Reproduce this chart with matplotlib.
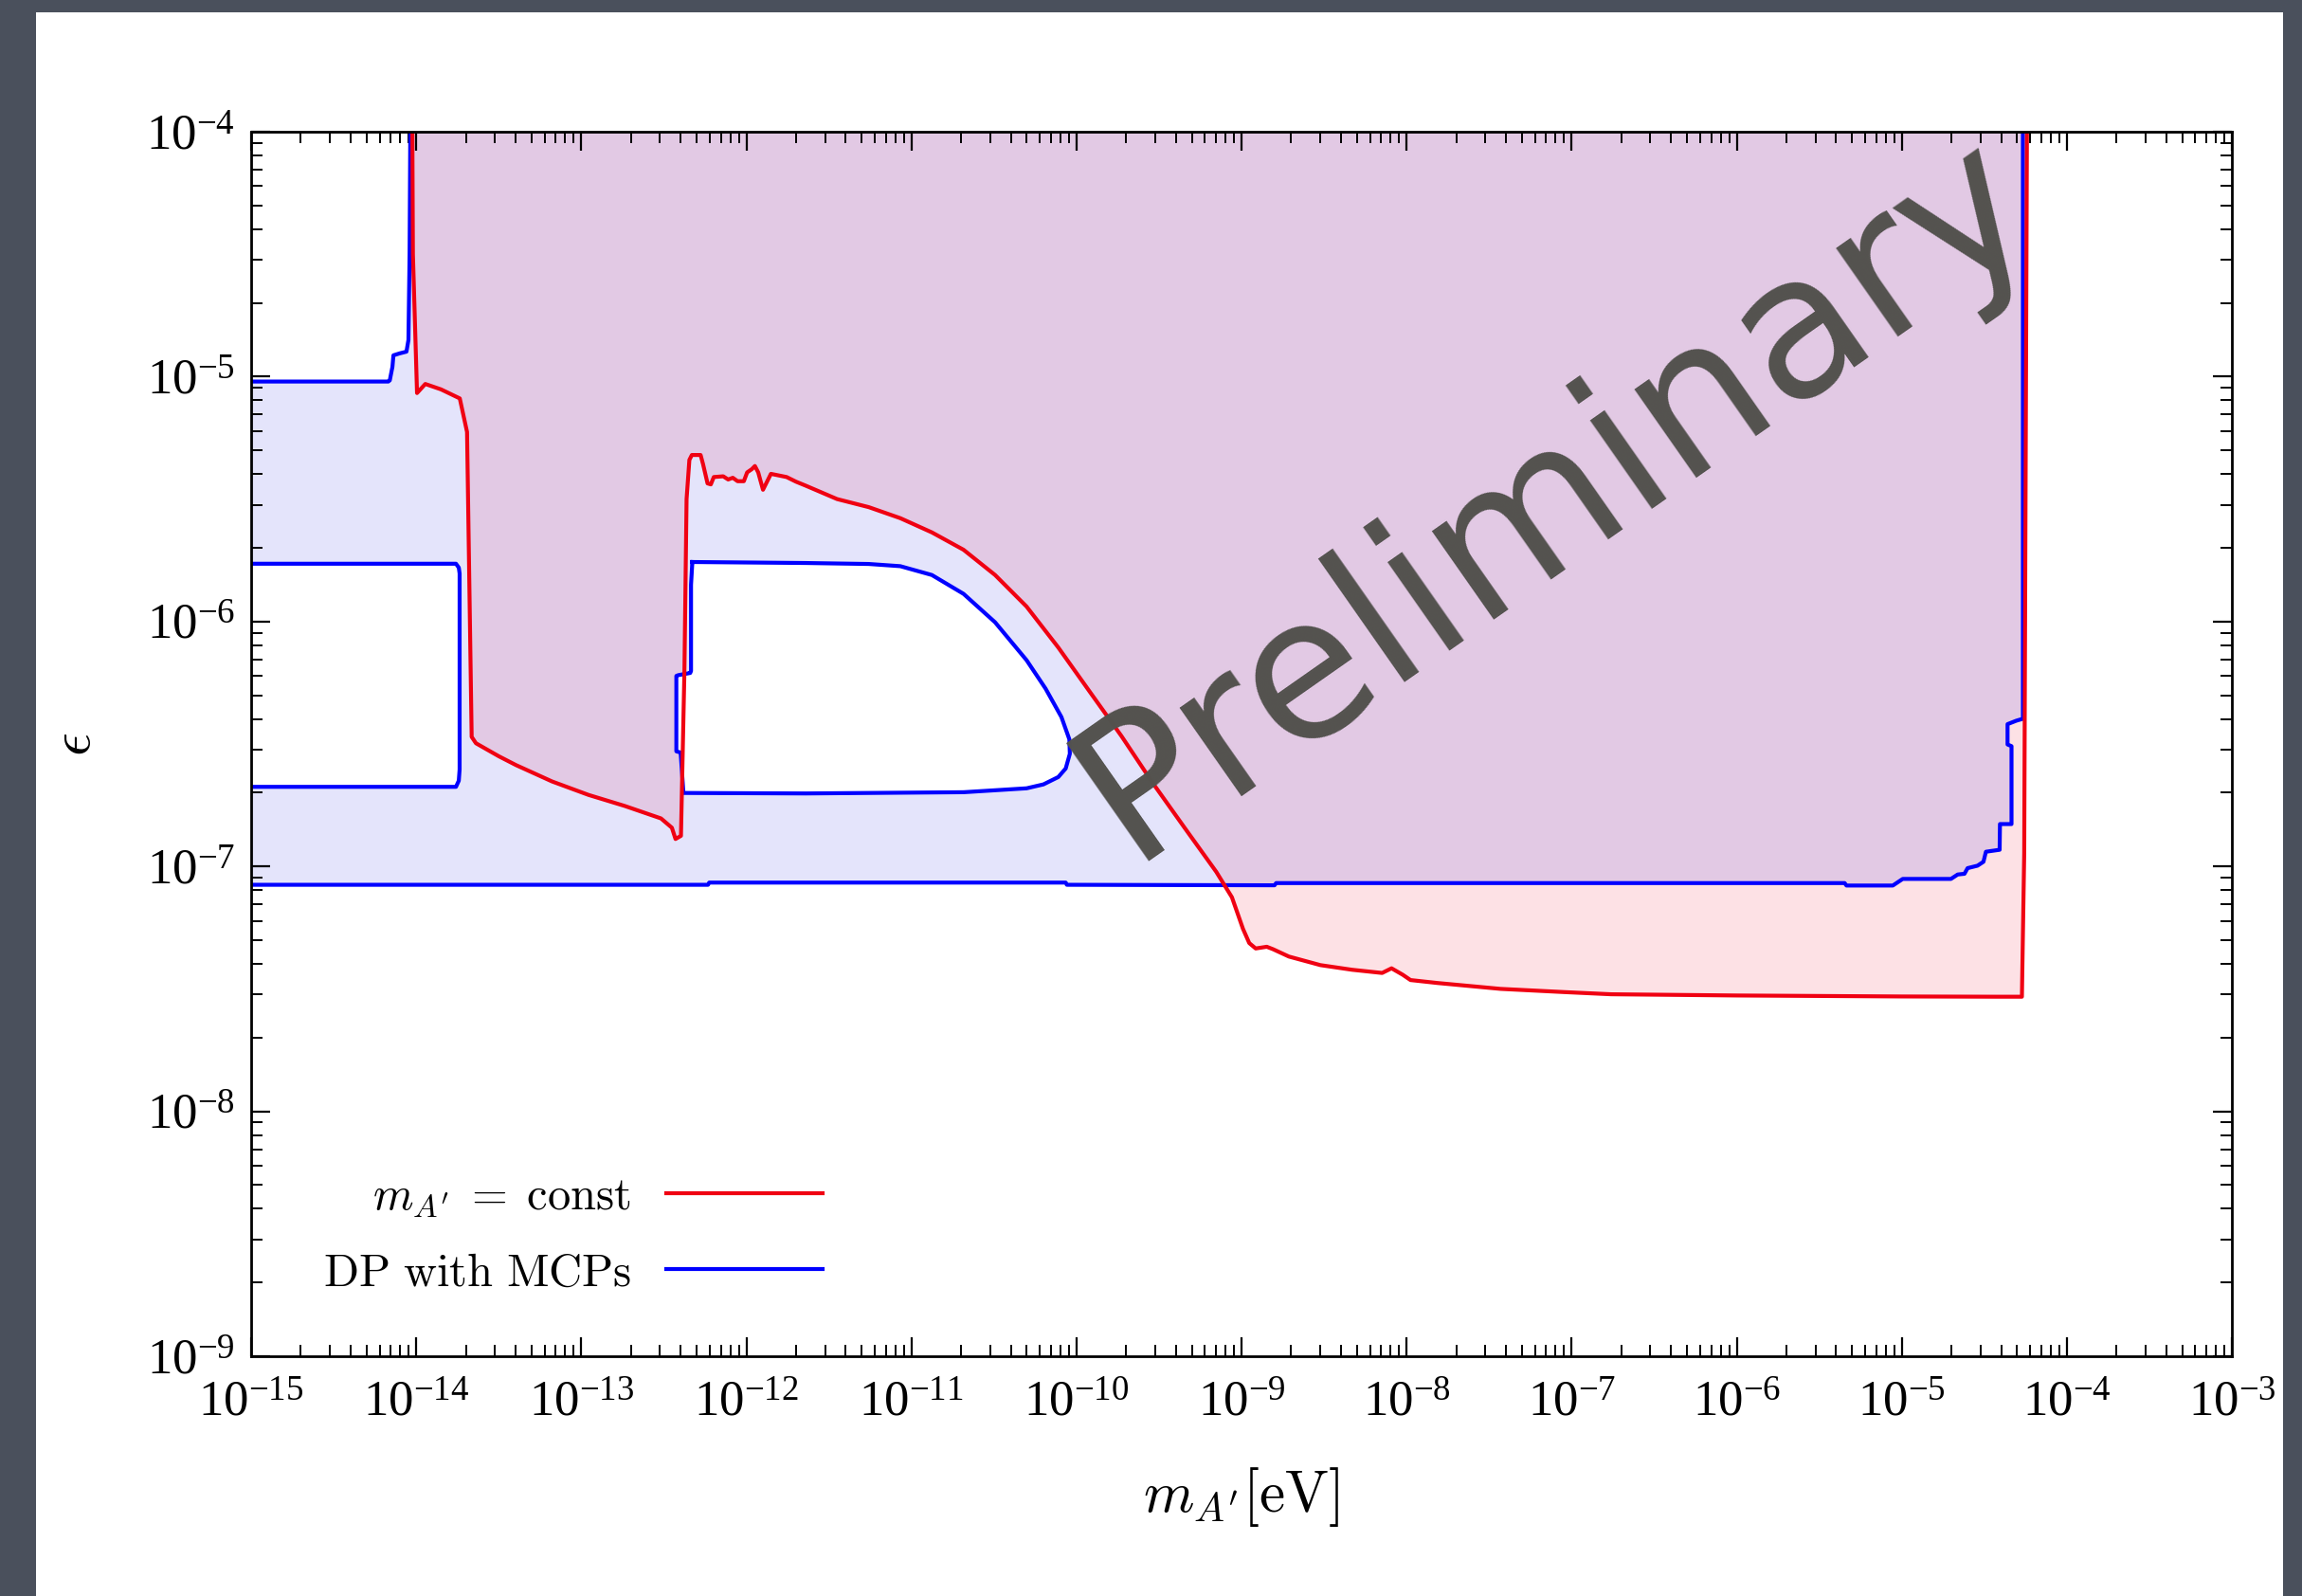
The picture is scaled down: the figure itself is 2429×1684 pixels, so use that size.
import numpy as np
import matplotlib
matplotlib.use('Agg')
import matplotlib.pyplot as plt
from matplotlib.patches import Rectangle
from matplotlib.ticker import LogLocator, NullFormatter

plt.rcParams['font.family'] = ['Liberation Serif', 'DejaVu Serif']
plt.rcParams['mathtext.fontset'] = 'cm'

#------ data (log10 m_A' [eV], log10 eps) ------
# m_A' = const bound (red)
red_logm = [-14.024, -14.020, -13.995, -13.945, -13.850, -13.736, -13.692, -13.664, -13.638,
            -13.500, -13.396, -13.177, -12.956, -12.737, -12.517, -12.451, -12.429, -12.396,
            -12.375, -12.362, -12.345, -12.330, -12.277, -12.262, -12.235, -12.215, -12.197,
            -12.140, -12.110, -12.082, -12.053, -12.015, -11.995, -11.967, -11.948, -11.928,
            -11.899, -11.851, -11.756, -11.699, -11.641, -11.450, -11.258, -11.067, -10.876,
            -10.684, -10.493, -10.302, -10.110, -9.919, -9.727, -9.536, -9.345, -9.153,
            -9.058, -8.991, -8.953, -8.914, -8.847, -8.809, -8.713, -8.522, -8.330,
            -8.148, -8.091, -8.024, -7.976, -7.813, -7.431, -7.048, -6.761, -6.000,
            -5.000, -4.430, -4.272, -4.258, -4.250, -4.241]
red_logeps = [-3.900, -4.500, -5.067, -5.030, -5.052, -5.089, -5.226, -6.471, -6.497,
              -6.550, -6.586, -6.653, -6.708, -6.753, -6.804, -6.842, -6.888, -6.875,
              -6.200, -5.500, -5.340, -5.320, -5.320, -5.358, -5.436, -5.440, -5.410,
              -5.407, -5.420, -5.413, -5.427, -5.427, -5.391, -5.378, -5.365, -5.391,
              -5.462, -5.397, -5.410, -5.429, -5.445, -5.500, -5.533, -5.578, -5.636,
              -5.707, -5.810, -5.939, -6.106, -6.287, -6.468, -6.661, -6.842, -7.022,
              -7.126, -7.255, -7.313, -7.335, -7.328, -7.338, -7.368, -7.403, -7.422,
              -7.435, -7.416, -7.442, -7.464, -7.476, -7.500, -7.513, -7.522, -7.527,
              -7.531, -7.532, -7.532, -6.945, -5.500, -3.900]

# DP with MCPs (blue): lower edge + right wall
blue_bot_logm = [-15.05, -12.232, -12.225, -10.065, -10.058, -8.800, -8.790, -5.346, -5.335,
                 -5.054, -4.994, -4.702, -4.661, -4.620, -4.601, -4.541, -4.505, -4.490,
                 -4.407, -4.405, -4.335, -4.335, -4.359, -4.359, -4.306, -4.266, -4.266]
blue_bot_logeps = [-7.075, -7.075, -7.066, -7.066, -7.075, -7.077, -7.068, -7.068, -7.078,
                   -7.078, -7.051, -7.051, -7.033, -7.030, -7.007, -6.997, -6.981, -6.940,
                   -6.932, -6.827, -6.827, -6.509, -6.502, -6.419, -6.405, -6.397, -3.900]
# upper-left edge
blue_left_logm = [-14.035, -14.040, -14.047, -14.059, -14.100, -14.138, -14.144, -14.160, -14.169, -15.05]
blue_left_logeps = [-3.900, -4.500, -4.850, -4.898, -4.905, -4.913, -4.960, -5.015, -5.020, -5.020]
# allowed islands inside the blue region
hole1_logm = [-15.05, -13.759, -13.742, -13.737, -13.737, -13.742, -13.759, -15.05]
hole1_logeps = [-5.764, -5.764, -5.780, -5.804, -6.604, -6.650, -6.675, -6.675]
hole2_logm = [-12.327, -11.641, -11.258, -11.067, -10.876, -10.684, -10.493, -10.302, -10.187,
              -10.091, -10.043, -10.040, -10.065, -10.110, -10.200, -10.302, -10.684, -11.641,
              -12.381, -12.398, -12.424, -12.424, -12.412, -12.340, -12.335, -12.335, -12.327]
hole2_logeps = [-5.757, -5.761, -5.765, -5.774, -5.810, -5.887, -6.003, -6.158, -6.274,
                -6.390, -6.481, -6.540, -6.600, -6.635, -6.665, -6.681, -6.697, -6.702,
                -6.700, -6.535, -6.530, -6.222, -6.219, -6.210, -6.202, -5.850, -5.757]

def p10(a):
    return np.power(10.0, np.array(a))

#------ figure (slide look) ------
W, H = 2429, 1684
fig = plt.figure(figsize=(W / 100, H / 100), dpi=100)
fig.patch.set_facecolor('#4a505c')
fig.add_artist(Rectangle((38 / W, 0), (2409 - 38) / W, (H - 13) / H, transform=fig.transFigure,
                         facecolor='white', edgecolor='none', zorder=-1))

ax = fig.add_axes([265 / W, 1 - 1431 / H, (2355 - 265) / W, (1431 - 139) / H])
ax.set_xscale('log')
ax.set_yscale('log')

# fills
ax.fill(p10(red_logm), p10(red_logeps), color='#f0102a', alpha=0.12, lw=0)
ax.fill(p10(blue_bot_logm + blue_left_logm), p10(blue_bot_logeps + blue_left_logeps),
        color='#0000e0', alpha=0.105, lw=0)
ax.fill(p10(hole1_logm), p10(hole1_logeps), color='white', lw=0)
ax.fill(p10(hole2_logm), p10(hole2_logeps), color='white', lw=0)

# lines
lw = 3.0
blue_line, = ax.plot(p10(blue_bot_logm), p10(blue_bot_logeps), color='#0000ff', lw=lw)
ax.plot(p10(blue_left_logm), p10(blue_left_logeps), color='#0000ff', lw=lw)
ax.plot(p10(hole1_logm), p10(hole1_logeps), color='#0000ff', lw=lw)
ax.plot(p10(hole2_logm), p10(hole2_logeps), color='#0000ff', lw=lw)
red_line, = ax.plot(p10(red_logm), p10(red_logeps), color='#f00012', lw=lw)

ax.set_xlim(1e-15, 1e-3)
ax.set_ylim(1e-9, 1e-4)

ax.xaxis.set_major_locator(LogLocator(base=10, numticks=30))
ax.xaxis.set_minor_locator(LogLocator(base=10, subs=np.arange(2, 10), numticks=300))
ax.xaxis.set_minor_formatter(NullFormatter())
ax.yaxis.set_major_locator(LogLocator(base=10, numticks=30))
ax.yaxis.set_minor_locator(LogLocator(base=10, subs=np.arange(2, 10), numticks=300))
ax.yaxis.set_minor_formatter(NullFormatter())

ax.tick_params(which='both', direction='in', top=True, right=True)
ax.tick_params(which='major', length=14.4, width=1.6, labelsize=38)
ax.tick_params(axis='x', which='major', pad=19)
ax.tick_params(axis='y', which='major', pad=12)
ax.tick_params(which='minor', length=8.6, width=1.4)
for s in ax.spines.values():
    s.set_linewidth(2.0)

ax.set_xlabel(r"$m_{A'}[\mathrm{eV}]$", fontsize=44)
ax.xaxis.set_label_coords(0.5, -0.089)
ax.set_ylabel(r"$\epsilon$", fontsize=44)
ax.yaxis.set_label_coords(-0.0751, 0.5)

ax.legend([red_line, blue_line], [r"$m_{A'}\;=\;\mathrm{const}$", r"$\mathrm{DP\ with\ MCPs}$"],
          loc='center', bbox_to_anchor=(0.1625, 0.0983), frameon=False, fontsize=35,
          markerfirst=False, handlelength=3.4, handletextpad=0.75, labelspacing=0.75)

# watermark
fig.text(1674 / W, 1 - 571 / H, 'Preliminary', fontsize=150, color='#53524e', rotation=35,
         rotation_mode='anchor', ha='center', va='baseline', family='DejaVu Sans')

fig.savefig('out.png', dpi=100, facecolor=fig.get_facecolor())
